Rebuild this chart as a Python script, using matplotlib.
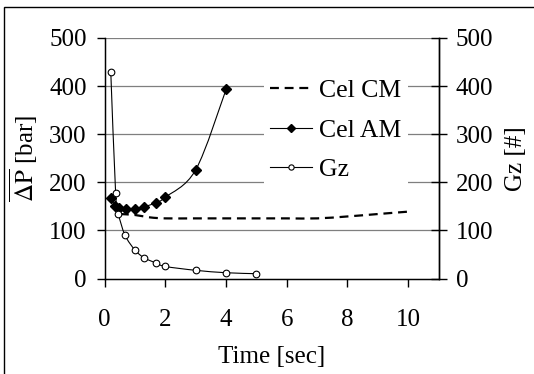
import numpy as np
import matplotlib
matplotlib.use("Agg")
import matplotlib.pyplot as plt
from matplotlib.path import Path
from matplotlib.patches import PathPatch, Rectangle
from matplotlib.lines import Line2D

plt.rcParams["font.family"] = ["Liberation Serif", "DejaVu Serif"]
plt.rcParams["mathtext.fontset"] = "stix"

# Time [sec] and values for each series
gz_time = [0.2, 0.36, 0.45, 0.67, 1.0, 1.3, 1.7, 2.0, 3.0, 4.0, 5.0]
gz_values = [430, 178, 135, 90, 59, 43, 32, 25, 17, 12, 10]

am_time = [0.2, 0.35, 0.46, 0.69, 1.0, 1.3, 1.7, 2.0, 3.0, 4.0]
am_dp = [167, 151, 147, 144, 144, 149, 158, 169, 226, 393]

cm_time = [0.5, 1.0, 1.5, 2.0, 3.0, 4.0, 5.0, 6.0, 7.0, 8.0, 9.0, 10.0]
cm_dp = [134, 132, 127, 125, 125, 125, 125, 125, 125, 129, 134, 139]

x_ticks = [0, 2, 4, 6, 8, 10]
y_ticks = [0, 100, 200, 300, 400, 500]


def smooth_path(xs, ys):
    """Piecewise cubic Bezier path through the points (Catmull-Rom tangents)."""
    pts = np.column_stack([xs, ys]).astype(float)
    n = len(pts)
    verts = [pts[0]]
    codes = [Path.MOVETO]
    for i in range(n - 1):
        p0 = pts[max(i - 1, 0)]
        p1 = pts[i]
        p2 = pts[i + 1]
        p3 = pts[min(i + 2, n - 1)]
        c1 = p1 + (p2 - p0) / 6.0
        c2 = p2 - (p3 - p1) / 6.0
        verts += [c1, c2, p2]
        codes += [Path.CURVE4] * 3
    return Path(np.array(verts), codes)


W, H = 534, 374
fig = plt.figure(figsize=(W / 100, H / 100), dpi=100)
ax = fig.add_axes([104.7 / W, 1 - 278.5 / H, 333.8 / W, 240.5 / H])

ax.set_xlim(0, 11)
ax.set_ylim(0, 500)

# horizontal grid
for yv in y_ticks[1:]:
    ax.axhline(yv, color="#7f7f7f", lw=0.9, zorder=1)

lw = 0.8
dash = (0, (4.0, 2.6))
ax.add_patch(PathPatch(smooth_path(cm_time, cm_dp), fill=False, edgecolor="black",
                       lw=1.6, linestyle=dash, zorder=3))
ax.add_patch(PathPatch(smooth_path(am_time, am_dp), fill=False, edgecolor="black",
                       lw=lw, zorder=3))
ax.add_patch(PathPatch(smooth_path(gz_time, gz_values), fill=False, edgecolor="black",
                       lw=lw, zorder=3))
ax.plot(am_time, am_dp, linestyle="none", marker="D", ms=5.5, color="black", zorder=4)
ax.plot(gz_time, gz_values, linestyle="none", marker="o", ms=4.8, mfc="white",
        mec="black", mew=0.8, zorder=4)

# axes and ticks
ax.spines["top"].set_visible(False)
for s in ["left", "bottom", "right"]:
    ax.spines[s].set_linewidth(1.0)
ax.set_xticks(x_ticks)
ax.set_yticks(y_ticks)
ax.tick_params(axis="x", direction="out", length=5.5, width=1.0, pad=16.5, labelsize=18)
ax.tick_params(axis="y", direction="out", length=5.5, width=1.0, pad=7.5, labelsize=18)

ax2 = ax.twinx()
ax2.set_ylim(0, 500)
ax2.set_yticks(y_ticks)
ax2.spines["top"].set_visible(False)
ax2.spines["right"].set_linewidth(1.0)
ax2.tick_params(axis="y", direction="inout", length=11.5, width=1.0, pad=6.5, labelsize=18)

ax.set_xlabel("Time [sec]", fontsize=18)
ax.xaxis.label.set_va("center")
ax.xaxis.set_label_coords(0.5, (278.5 - 357) / 240.5)

ax.set_ylabel(r"$\overline{\Delta\mathrm{P}}$ [bar]", fontsize=18)
ax.yaxis.label.set_va("center")
ax.yaxis.set_label_coords((24 - 104.7) / 333.8, 0.5)

ax2.set_ylabel("Gz [#]", fontsize=18, rotation=90)
ax2.yaxis.label.set_va("center")
ax2.yaxis.set_label_coords((516 - 104.7) / 333.8, 0.5)

handles = [
    Line2D([], [], color="black", lw=1.6, linestyle=dash),
    Line2D([], [], color="black", lw=lw, marker="D", ms=4.2),
    Line2D([], [], color="black", lw=lw, marker="o", ms=3.8, mfc="white", mew=0.8),
]
leg = ax2.legend(handles, ["Cel CM", "Cel AM", "Gz"], loc="upper left",
                 bbox_to_anchor=(264 / W, 1 - 73 / H), bbox_transform=fig.transFigure,
                 frameon=True, fancybox=False, fontsize=18.5, handlelength=1.63,
                 handletextpad=0.27, labelspacing=0.64, borderpad=0.25,
                 borderaxespad=0)
leg.get_frame().set_edgecolor("none")
leg.get_frame().set_facecolor("white")
leg.get_frame().set_alpha(1.0)
leg.set_zorder(5)

# outer frame
fig.patches.append(Rectangle((4 / W, -0.2), 1.2, 1.2 - 7 / H,
                             transform=fig.transFigure, fill=False,
                             edgecolor="black", lw=1.0))

fig.savefig("out.png", dpi=100)
